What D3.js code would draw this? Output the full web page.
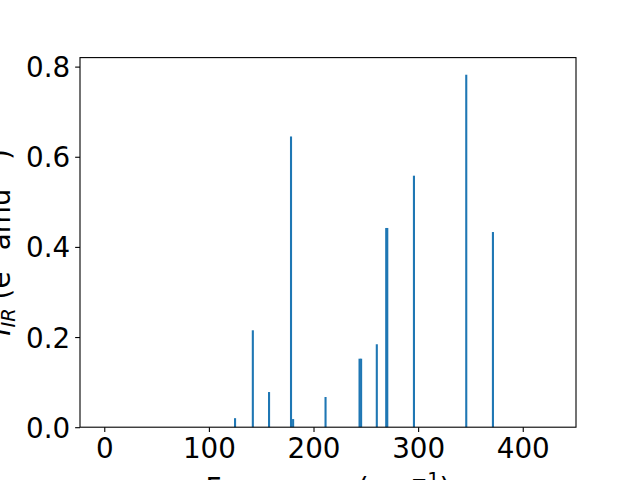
<!DOCTYPE html>
<html>
<head>
<meta charset="utf-8">
<script src="https://cdn.jsdelivr.net/npm/d3@7"></script>
<style>
  body { margin: 0; background: #fff; }
  text { font-family: "DejaVu Sans", sans-serif; }
</style>
</head>
<body>
<div id="chart"></div>
<script>
// IR spectrum: frequency (cm-1) vs intensity
var freqs = [125, 142, 157.5, 178.5, 180.5, 211.5, 244, 245.5, 260.5, 269.5, 270.5, 296, 346, 371.5];
var intensities = [0.020, 0.215, 0.078, 0.645, 0.018, 0.067, 0.152, 0.152, 0.184, 0.442, 0.442, 0.558, 0.782, 0.433];
var xTicks = [0, 100, 200, 300, 400];
var yTicks = [0.0, 0.2, 0.4, 0.6, 0.8];

var width = 640, height = 480;
var margin = {left: 80, right: 64, top: 57.6, bottom: 52.8};
var barWidth = 2; // data units
var fontSize = 27.78;

var bars = freqs.map(function(f, i) { return {freq: f, val: intensities[i]}; });

var svg = d3.select("#chart").append("svg")
  .attr("width", width)
  .attr("height", height);

var x = d3.scaleLinear()
  .domain([-23.2, 450.9])
  .range([margin.left, width - margin.right]);

var y = d3.scaleLinear()
  .domain([0, 0.82])
  .range([height - margin.bottom, margin.top]);

var plot = svg.append("g");

plot.selectAll("rect.bar")
  .data(bars).enter()
  .append("rect")
  .attr("class", "bar")
  .attr("x", function(d) { return x(d.freq - barWidth/2); })
  .attr("width", function(d) { return x(barWidth) - x(0); })
  .attr("y", function(d) { return y(d.val); })
  .attr("height", function(d) { return y(0) - y(d.val); })
  .attr("fill", "#1f77b4");

// frame
svg.append("rect")
  .attr("x", margin.left)
  .attr("y", margin.top)
  .attr("width", width - margin.left - margin.right)
  .attr("height", height - margin.top - margin.bottom)
  .attr("fill", "none")
  .attr("stroke", "#000")
  .attr("stroke-width", 1.1);

var xAxis = d3.axisBottom(x)
  .tickValues(xTicks)
  .tickSize(4.86)
  .tickPadding(4.86)
  .tickFormat(d3.format("d"));

var yAxis = d3.axisLeft(y)
  .tickValues(yTicks)
  .tickSize(4.86)
  .tickPadding(4.86)
  .tickFormat(d3.format(".1f"));

var gx = svg.append("g")
  .attr("transform", "translate(0," + (height - margin.bottom) + ")")
  .call(xAxis);
var gy = svg.append("g")
  .attr("transform", "translate(" + margin.left + ",0)")
  .call(yAxis);

[gx, gy].forEach(function(g) {
  g.select(".domain").remove();
  g.selectAll(".tick line").attr("stroke", "#000").attr("stroke-width", 1.1);
  g.selectAll(".tick text")
    .attr("fill", "#000")
    .style("font-size", fontSize + "px")
    .style("font-family", "DejaVu Sans, sans-serif");
});
gx.selectAll(".tick text").attr("dy", null).attr("y", 30.8);
gy.selectAll(".tick text").attr("dy", null).attr("y", 10);

// x label (mostly cut off at the bottom)
var xl = svg.append("text")
  .attr("x", (margin.left + width - margin.right) / 2)
  .attr("y", 498)
  .attr("text-anchor", "middle")
  .style("font-size", fontSize + "px");
xl.append("tspan").text("Frequency (cm");
xl.append("tspan").attr("dy", -12).style("font-size", (fontSize*0.7) + "px").text("\u22121");
xl.append("tspan").attr("dy", 12).text(")");

// y label, rotated
var yl = svg.append("text")
  .attr("transform", "translate(10," + ((margin.top + height - margin.bottom) / 2) + ") rotate(-90)")
  .attr("text-anchor", "middle")
  .style("font-size", fontSize + "px");
yl.append("tspan").style("font-style", "italic").text("I");
yl.append("tspan").attr("dy", 5).style("font-style", "italic").style("font-size", (fontSize*0.7) + "px").text("IR");
yl.append("tspan").attr("dy", -5).text(" (e");
yl.append("tspan").attr("dy", -12).style("font-size", (fontSize*0.7) + "px").text("2");
yl.append("tspan").attr("dy", 12).text(" amu");
yl.append("tspan").attr("dy", -12).style("font-size", (fontSize*0.7) + "px").text("\u22121");
yl.append("tspan").attr("dy", 12).text(")");
</script>
</body>
</html>
